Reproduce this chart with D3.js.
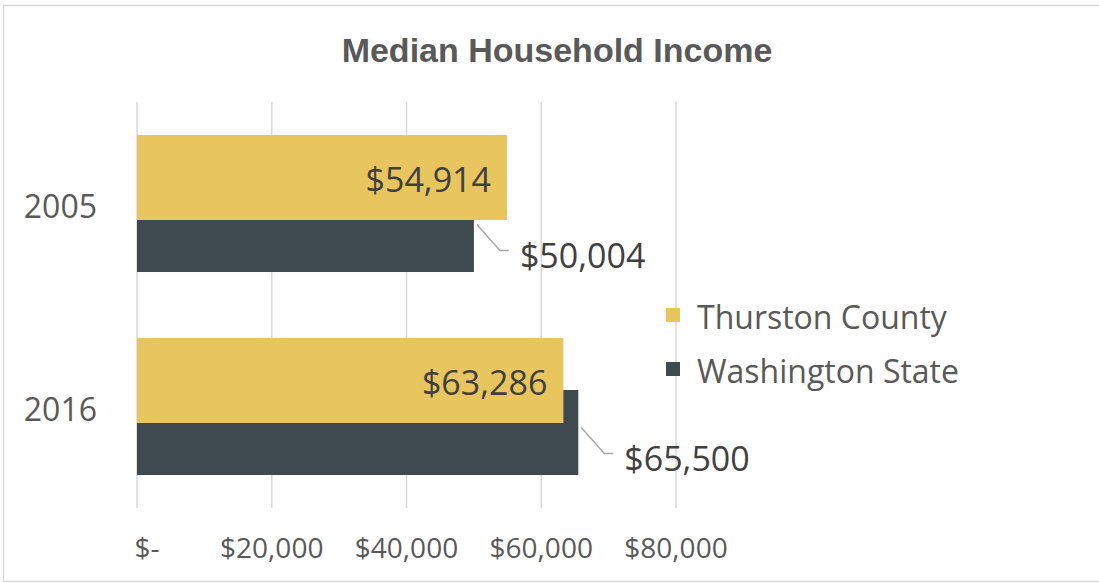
<!DOCTYPE html>
<html>
<head>
<meta charset="utf-8">
<script src="https://cdn.jsdelivr.net/npm/d3@7"></script>
<style>
  html, body { margin: 0; padding: 0; background: #fff; }
  svg { display: block; }
  .tick-label { font-family: "Open Sans", sans-serif; fill: #595959; }
</style>
</head>
<body>
<svg id="chart" width="1099" height="583"></svg>
<script>
// data
const years = ["2005", "2016"];
const series = ["Thurston County", "Washington State"];
const thurston = [54914, 63286];
const washington = [50004, 65500];
const xTicks = [0, 20000, 40000, 60000, 80000];
const xTickLabels = ["$-", "$20,000", "$40,000", "$60,000", "$80,000"];
const colors = ["#E8C55F", "#3F4A50"];

const W = 1099, H = 583;
const plot = {left: 137, right: 676, top: 102, bottom: 508};

const svg = d3.select("#chart");

// outer frame
svg.append("rect")
  .attr("x", 3.5).attr("y", 5.5)
  .attr("width", W + 10).attr("height", H - 7)
  .attr("fill", "none").attr("stroke", "#D9D9D9").attr("stroke-width", 1.5);

svg.append("text")
  .attr("x", 557).attr("y", 50)
  .attr("text-anchor", "middle").attr("dominant-baseline", "central")
  .style("font-family", "'Liberation Sans', Arial, sans-serif")
  .style("font-weight", "bold").style("font-size", "34px")
  .attr("fill", "#595959")
  .text("Median Household Income");

const x = d3.scaleLinear().domain([0, 80000]).range([plot.left, plot.right]);
const y = d3.scaleBand().domain(years).range([plot.top, plot.bottom])
  .paddingInner(0.325).paddingOuter(0.1625);

const barH = y.bandwidth() * 85 / 137;
const sub = d3.scalePoint().domain(series).range([0, y.bandwidth() - barH]);

// gridlines
svg.append("g").selectAll("line")
  .data(xTicks)
  .join("line")
  .attr("x1", d => x(d)).attr("x2", d => x(d))
  .attr("y1", plot.top).attr("y2", plot.bottom)
  .attr("stroke", "#D9D9D9").attr("stroke-width", 1.5);

// x tick labels
svg.append("g").selectAll("text")
  .data(xTicks)
  .join("text")
  .attr("class", "tick-label")
  .attr("x", (d, i) => x(d) + (i === 0 ? 10 : 0))
  .attr("y", 547)
  .attr("text-anchor", "middle").attr("dominant-baseline", "central")
  .style("font-size", "28px")
  .text((d, i) => xTickLabels[i]);

// y labels
svg.append("g").selectAll("text")
  .data(years)
  .join("text")
  .attr("class", "tick-label")
  .attr("x", plot.left - 40)
  .attr("y", d => y(d) + y.bandwidth() / 2 + 2)
  .attr("text-anchor", "end").attr("dominant-baseline", "central")
  .style("font-size", "32px")
  .text(d => d);

const rows = years.map((yr, i) => ({year: yr, values: [thurston[i], washington[i]]}));

// bars: draw Washington first so Thurston sits on top (overlapping bars)
const order = [1, 0];
order.forEach(s => {
  svg.append("g").selectAll("rect")
    .data(rows)
    .join("rect")
    .attr("x", x(0))
    .attr("y", d => y(d.year) + sub(series[s]))
    .attr("width", d => x(d.values[s]) - x(0))
    .attr("height", barH)
    .attr("fill", colors[s]);
});

// Thurston labels inside bar end
svg.append("g").selectAll("text")
  .data(rows)
  .join("text")
  .attr("x", d => x(d.values[0]) - 16)
  .attr("y", d => y(d.year) + sub(series[0]) + barH / 2 + 2)
  .attr("text-anchor", "end").attr("dominant-baseline", "central")
  .style("font-family", "'Open Sans', sans-serif").style("font-size", "34px")
  .attr("fill", "#404040")
  .text(d => d3.format("$,")(d.values[0]));

// Washington labels with leader lines
const lab = svg.append("g");
rows.forEach(d => {
  const xv = x(d.values[1]);
  const ly = y(d.year) + sub(series[1]) + barH / 2 + 25;
  lab.append("polyline")
    .attr("points", [[xv + 3, ly - 30], [xv + 26, ly - 4], [xv + 35, ly - 4]].map(p => p.join(",")).join(" "))
    .attr("fill", "none").attr("stroke", "#A6A6A6").attr("stroke-width", 1.3);
  lab.append("text")
    .attr("x", xv + 46).attr("y", ly)
    .attr("dominant-baseline", "central")
    .style("font-family", "'Open Sans', sans-serif").style("font-size", "34px")
    .attr("fill", "#404040")
    .text(d3.format("$,")(d.values[1]));
});

// legend
const leg = svg.append("g").attr("transform", "translate(666,315)");
series.forEach((s, i) => {
  const g = leg.append("g").attr("transform", `translate(0,${i * 54})`);
  g.append("rect").attr("x", 0).attr("y", -7).attr("width", 14).attr("height", 14).attr("fill", colors[i]);
  g.append("text")
    .attr("x", 31).attr("y", 1)
    .attr("dominant-baseline", "central")
    .style("font-family", "'Open Sans', sans-serif").style("font-size", "32px")
    .attr("fill", "#595959")
    .text(s);
});
</script>
</body>
</html>
